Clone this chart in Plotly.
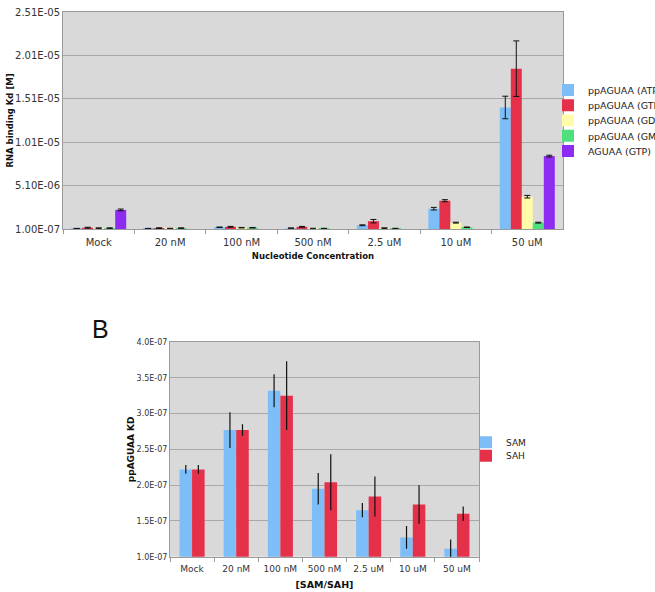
import plotly.graph_objects as go

# ---------------- data: panel A ----------------
cats_a = ["Mock", "20 nM", "100 nM", "500 nM", "2.5 uM", "10 uM", "50 uM"]
names_a = ["ppAGUAA (ATP)", "ppAGUAA (GTP)", "ppAGUAA (GDP)", "ppAGUAA (GMP)", "AGUAA (GTP)"]
atp = [1.5e-7, 1.5e-7, 3.0e-7, 2.0e-7, 5.3e-7, 2.44e-6, 1.41e-5]
atp_err = [2e-8, 2e-8, 3e-8, 2e-8, 5e-8, 1.5e-7, 1.3e-6]
gtp = [2.5e-7, 2.0e-7, 3.5e-7, 3.5e-7, 1.0e-6, 3.36e-6, 1.857e-5]
gtp_err = [5e-8, 4e-8, 5e-8, 5e-8, 2.0e-7, 1.2e-7, 3.2e-6]
gdp = [2.0e-7, 1.5e-7, 2.5e-7, 1.5e-7, 2.0e-7, 8.3e-7, 3.82e-6]
gdp_err = [3e-8, 3e-8, 3e-8, 3e-8, 3e-8, 5e-8, 1.5e-7]
gmp = [2.0e-7, 2.0e-7, 2.5e-7, 1.5e-7, 1.5e-7, 3.0e-7, 8.3e-7]
gmp_err = [3e-8, 3e-8, 3e-8, 3e-8, 3e-8, 3e-8, 5e-8]
aguaa = [2.3e-6, None, None, None, None, None, 8.5e-6]
aguaa_err = [1e-7, None, None, None, None, None, 1e-7]
ytick_a_vals = [1.0e-7, 5.1e-6, 1.01e-5, 1.51e-5, 2.01e-5, 2.51e-5]
ytick_a_text = ["1.00E-07", "5.10E-06", "1.01E-05", "1.51E-05", "2.01E-05", "2.51E-05"]

# ---------------- data: panel B ----------------
cats_b = ["Mock", "20 nM", "100 nM", "500 nM", "2.5 uM", "10 uM", "50 uM"]
names_b = ["SAM", "SAH"]
sam = [2.22e-7, 2.77e-7, 3.32e-7, 1.95e-7, 1.65e-7, 1.27e-7, 1.11e-7]
sam_err = [6e-9, 2.5e-8, 2.3e-8, 2.2e-8, 1.0e-8, 1.6e-8, 1.3e-8]
sah = [2.22e-7, 2.77e-7, 3.25e-7, 2.04e-7, 1.84e-7, 1.73e-7, 1.60e-7]
sah_err = [6e-9, 8e-9, 4.8e-8, 3.9e-8, 2.8e-8, 2.7e-8, 1.0e-8]
ytick_b_vals = [1.0e-7, 1.5e-7, 2.0e-7, 2.5e-7, 3.0e-7, 3.5e-7, 4.0e-7]
ytick_b_text = ["1.0E-07", "1.5E-07", "2.0E-07", "2.5E-07", "3.0E-07", "3.5E-07", "4.0E-07"]

colors_a = ["#7DBEF8", "#E5304A", "#FFFBA8", "#4FE07E", "#8E2BF0"]
colors_b = ["#7DBEF8", "#E5304A"]

W, H = 655, 592
FONT = "DejaVu Sans"

def px_x(p):
    return p / W

def px_y(p):
    return 1 - p / H

fig = go.Figure()

# legend entry rows (pixel centres) for each series
leg_rows_a = [90, 105.2, 120.5, 135.8, 151]
leg_rows_b = [442.2, 455.8]

legends = {}

series_a = [(atp, atp_err), (gtp, gtp_err), (gdp, gdp_err), (gmp, gmp_err), (aguaa, aguaa_err)]
bw_a = 0.154
for i, ((vals, errs), name) in enumerate(zip(series_a, names_a)):
    lid = "legend" if i == 0 else f"legend{i + 1}"
    legends[lid] = dict(
        x=px_x(548), y=px_y(leg_rows_a[i]), xanchor="left", yanchor="middle",
        font=dict(size=9.5, color="#222222"), bgcolor="rgba(0,0,0,0)", borderwidth=0,
        itemwidth=30, visible=True,
    )
    fig.add_trace(go.Bar(
        x=cats_a, y=vals, name=name, marker=dict(color=colors_a[i], line=dict(width=0)),
        width=bw_a, offset=-2.5 * bw_a + i * bw_a,
        error_y=dict(type="data", array=errs, visible=True, color="#111111", thickness=1, width=3),
        xaxis="x", yaxis="y", legend=lid, showlegend=True,
    ))

bw_b = 0.284
for i, (vals, errs) in enumerate([(sam, sam_err), (sah, sah_err)]):
    lid = f"legend{6 + i}"
    legends[lid] = dict(
        x=px_x(466), y=px_y(leg_rows_b[i]), xanchor="left", yanchor="middle",
        font=dict(size=9, color="#222222"), bgcolor="rgba(0,0,0,0)", borderwidth=0,
        itemwidth=30, visible=True,
    )
    fig.add_trace(go.Bar(
        x=cats_b, y=vals, name=names_b[i], marker=dict(color=colors_b[i], line=dict(width=0)),
        width=bw_b, offset=-bw_b + i * bw_b,
        error_y=dict(type="data", array=errs, visible=True, color="#111111", thickness=1.2, width=0),
        xaxis="x2", yaxis="y2", legend=lid, showlegend=True,
    ))

axis_line = "#9A9A9A"
grid = "#A8A8A8"

fig.update_layout(
    width=W, height=H,
    margin=dict(l=0, r=0, t=0, b=0, autoexpand=False),
    paper_bgcolor="white", plot_bgcolor="#D9D9D9",
    barmode="group",
    showlegend=True,
    font=dict(family=FONT, color="#333333"),
    xaxis=dict(
        domain=[px_x(63), px_x(563)], anchor="y", type="category",
        showline=True, linecolor=axis_line, mirror=True, linewidth=1,
        ticks="outside", tickson="boundaries", ticklen=4, tickcolor=axis_line,
        ticklabelstandoff=4,
        tickfont=dict(size=10), showgrid=False,
        title=dict(text="<b>Nucleotide Concentration</b>", font=dict(size=8.5, color="#111111"), standoff=6),
    ),
    yaxis=dict(
        domain=[px_y(229), px_y(12)], anchor="x",
        range=[ytick_a_vals[0], ytick_a_vals[-1]],
        tickvals=ytick_a_vals, ticktext=ytick_a_text,
        showline=True, linecolor=axis_line, mirror=True, linewidth=1,
        ticks="",
        tickfont=dict(size=10), showgrid=True, gridcolor=grid, gridwidth=1, zeroline=False,
        title=dict(text="<b>RNA binding Kd [M]</b>", font=dict(size=8.5, color="#111111"), standoff=0),
    ),
    xaxis2=dict(
        domain=[px_x(170), px_x(479)], anchor="y2", type="category",
        showline=True, linecolor=axis_line, mirror=True, linewidth=1,
        ticks="outside", tickson="boundaries", ticklen=4, tickcolor=axis_line,
        ticklabelstandoff=3,
        tickfont=dict(size=9), showgrid=False,
        title=dict(text="<b>[SAM/SAH]</b>", font=dict(size=9.5, color="#111111"), standoff=8),
    ),
    yaxis2=dict(
        domain=[px_y(556.7), px_y(342)], anchor="x2",
        range=[ytick_b_vals[0], ytick_b_vals[-1]],
        tickvals=ytick_b_vals, ticktext=ytick_b_text,
        showline=True, linecolor=axis_line, mirror=True, linewidth=1,
        ticks="",
        tickfont=dict(size=8), showgrid=True, gridcolor=grid, gridwidth=1, zeroline=False,
        title=dict(text="<b>ppAGUAA KD</b>", font=dict(size=9, color="#111111"), standoff=0),
    ),
    annotations=[dict(
        text="B", x=px_x(90), y=px_y(329), xref="paper", yref="paper",
        xanchor="left", yanchor="middle", showarrow=False,
        font=dict(family="Liberation Sans", size=25, color="#111111"),
    )],
    **legends,
)

fig.write_html("out.html")
